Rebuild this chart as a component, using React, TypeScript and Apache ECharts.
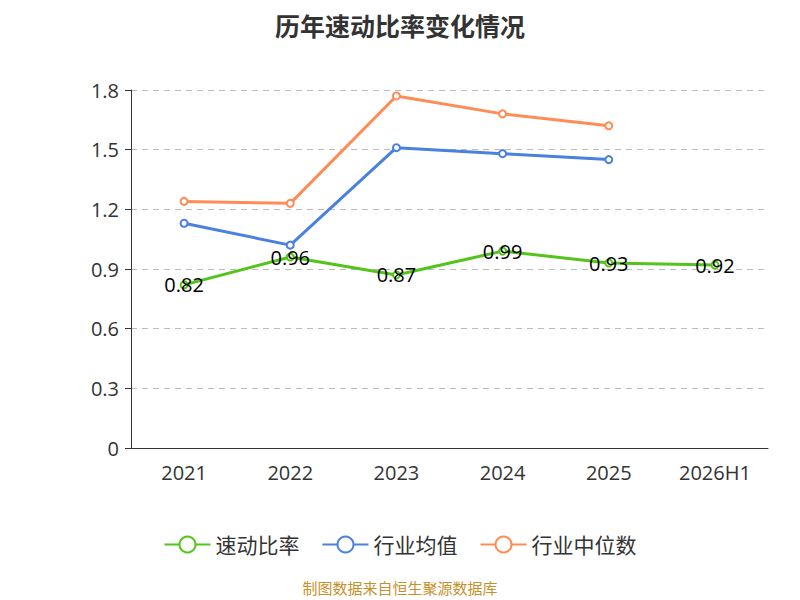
import {useEffect, useRef} from "react";
import * as echarts from "echarts";

const years = ["2021", "2022", "2023", "2024", "2025", "2026H1"];
const quickRatio = [0.82, 0.96, 0.87, 0.99, 0.93, 0.92];
const industryAvg = [1.13, 1.02, 1.51, 1.48, 1.45];
const industryMedian = [1.24, 1.23, 1.77, 1.68, 1.62];
const yTicks = [0, 0.3, 0.6, 0.9, 1.2, 1.5, 1.8];

const font = "'Open Sans', 'Noto Sans CJK SC', sans-serif";

export default function App() {
    const domRef = useRef<HTMLDivElement>(null);

    useEffect(() => {
        if (!domRef.current) return;
        const chart = echarts.init(domRef.current, null, {renderer: "svg"});
        const line = (name: string, data: number[], color: string, label: boolean) => ({
            name, type: "line", data, symbol: "emptyCircle", symbolSize: 7,
            lineStyle: {width: 3, color}, itemStyle: {color, borderWidth: 2},
            label: label ? {show: true, position: "inside", color: "#000", fontSize: 20, fontFamily: font} : {show: false},
        });
        chart.setOption({
            animation: false,
            textStyle: {fontFamily: font},
            title: {text: "历年速动比率变化情况", left: "center", top: 0,
                textStyle: {fontSize: 25, fontWeight: "bold", color: "#333", fontFamily: font}},
            grid: {left: 123, right: 24, top: 82, bottom: 152},
            legend: {bottom: 40, itemWidth: 46, itemHeight: 20, itemGap: 22,
                textStyle: {fontSize: 21, color: "#333", fontFamily: font},
                data: ["速动比率", "行业均值", "行业中位数"]},
            xAxis: {type: "category", data: years, boundaryGap: true,
                axisLine: {lineStyle: {color: "#333"}}, axisTick: {length: 6, lineStyle: {color: "#333"}},
                axisLabel: {fontSize: 20, color: "#333", margin: 14}},
            yAxis: {type: "value", min: 0, max: 1.8, interval: 0.3,
                axisLine: {show: true, lineStyle: {color: "#333"}}, axisTick: {show: true, length: 6, lineStyle: {color: "#333"}},
                axisLabel: {fontSize: 20, color: "#333", margin: 12,
                    formatter: (v: number) => String(yTicks.find(t => Math.abs(t - v) < 1e-6) ?? v)},
                splitLine: {lineStyle: {type: [6, 5], color: "#bbb"}}},
            series: [
                line("速动比率", quickRatio, "#52c41a", true),
                line("行业均值", industryAvg, "#4a80e0", false),
                line("行业中位数", industryMedian, "#ff8c55", false),
            ],
            graphic: [{type: "text", left: "center", top: 572,
                style: {text: "制图数据来自恒生聚源数据库", fontSize: 15, fill: "#c8902a", fontFamily: font}}],
        });
        return () => chart.dispose();
    }, []);

    return <div ref={domRef} style={{width: 784, height: 592}} />;
}
